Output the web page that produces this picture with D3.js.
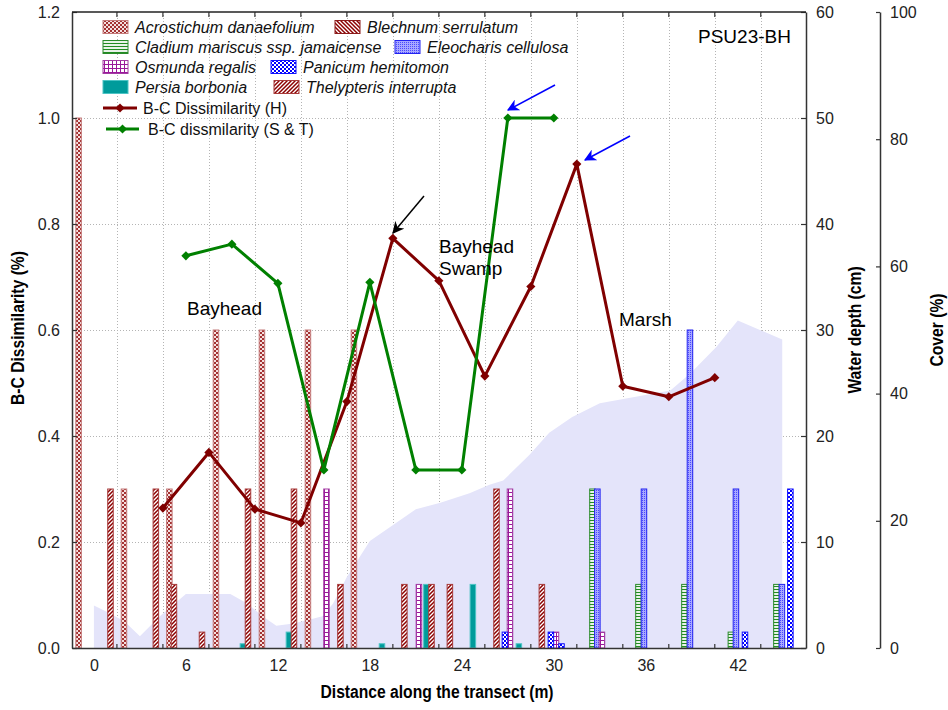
<!DOCTYPE html>
<html>
<head>
<meta charset="utf-8">
<script src="https://cdn.jsdelivr.net/npm/d3@7"></script>
<style>
body { margin: 0; background: #fff; }
svg { display: block; }
text { font-family: "Liberation Sans", Arial, sans-serif; }
.title { font-weight: bold; font-size: 18px; }
</style>
</head>
<body>
<svg id="chart"></svg>
<script>
// ---- data ----
var distTicks = [0, 6, 12, 18, 24, 30, 36, 42];
var plotMarks = [1.5, 4.5, 7.5, 10.5, 13.5, 16.5, 19.5, 22.5, 25.5, 28.5, 31.5, 34.5, 37.5, 40.5, 43.5];
var bcTicks = [0, 0.2, 0.4, 0.6, 0.8, 1.0, 1.2];
var depthTicks = [0, 10, 20, 30, 40, 50, 60];
var coverTicks = [0, 20, 40, 60, 80, 100];

// B-C dissimilarity (H)
var hDist = [4.5, 7.5, 10.5, 13.5, 16.5, 19.5, 22.5, 25.5, 28.5, 31.5, 34.5, 37.5, 40.5];
var hVal  = [0.264, 0.369, 0.262, 0.236, 0.465, 0.773, 0.693, 0.513, 0.682, 0.913, 0.494, 0.474, 0.510];
// B-C dissimilarity (S & T)
var stDist = [6, 9, 12, 15, 18, 21, 24, 27, 30];
var stVal  = [0.740, 0.762, 0.688, 0.336, 0.690, 0.336, 0.336, 1.0, 1.0];

// water depth (cm)
var depthDist = [0, 1, 2, 3, 4.3, 6, 8.9, 10, 11, 11.9, 13, 14.1, 14.9, 15.6, 16.5, 18, 19.3, 21, 22.6, 24.5, 25.8, 26.7, 28.4, 29.7, 31.2, 33, 37.6, 38.9, 40.6, 42, 44.9];
var depthVal  = [4.0, 3.3, 2.5, 1.1, 3.0, 5.1, 5.1, 4.2, 3.0, 2.1, 2.3, 2.7, 3.0, 4.2, 6.7, 10.1, 11.4, 13.1, 13.7, 14.6, 15.4, 15.8, 18.2, 20.3, 21.8, 23.1, 24.3, 25.9, 28.4, 30.9, 29.1];

// cover bars: position (m) and height
var acroPos = [-1.0, 1.96, 4.92, 7.96, 10.96, 13.96, 16.96];
var acroVal = [1.0, 0.3, 0.3, 0.6, 0.6, 0.6, 0.6];
var blechPos = [];
var blechVal = [];
var cladPos = [32.52, 35.52, 38.52, 41.55, 44.52];
var cladVal = [0.3, 0.12, 0.12, 0.03, 0.12];
var eleoPos = [32.84, 35.88, 38.88, 41.88, 44.88];
var eleoVal = [0.3, 0.3, 0.6, 0.3, 0.12];
var osmPos = [15.17, 21.2, 27.14, 30.14, 33.14];
var osmVal = [0.3, 0.12, 0.3, 0.03, 0.03];
var paniPos = [26.81, 29.81, 30.5, 42.47, 45.43];
var paniVal = [0.03, 0.03, 0.008, 0.03, 0.3];
var persPos = [9.72, 12.72, 18.79, 21.69, 24.72, 27.72];
var persVal = [0.008, 0.03, 0.008, 0.12, 0.12, 0.008];
var thelPos = [1.08, 4.04, 5.22, 7.05, 10.05, 13.05, 16.08, 20.25, 22.02, 23.22, 26.26, 29.22];
var thelVal = [0.3, 0.3, 0.12, 0.03, 0.3, 0.3, 0.12, 0.12, 0.12, 0.12, 0.3, 0.12];

var species = [
    {name: "Acrostichum danaefolium", pat: "acro", stroke: "#c47a7a", pos: acroPos, val: acroVal, lx: 103, row: 0},
    {name: "Blechnum serrulatum", pat: "blech", stroke: "#8b1a1a", pos: blechPos, val: blechVal, lx: 335, row: 0},
    {name: "Cladium mariscus ssp. jamaicense", pat: "clad", stroke: "#2a8a2a", pos: cladPos, val: cladVal, lx: 103, row: 1},
    {name: "Eleocharis cellulosa", pat: "eleo", stroke: "#2323f0", pos: eleoPos, val: eleoVal, lx: 395, row: 1},
    {name: "Osmunda regalis", pat: "osm", stroke: "#a33ca3", pos: osmPos, val: osmVal, lx: 103, row: 2},
    {name: "Panicum hemitomon", pat: "pani", stroke: "#1010ff", pos: paniPos, val: paniVal, lx: 271, row: 2},
    {name: "Persia borbonia", pat: "pers", stroke: "#4cc4c4", pos: persPos, val: persVal, lx: 103, row: 3},
    {name: "Thelypteris interrupta", pat: "thel", stroke: "#a83a3a", pos: thelPos, val: thelVal, lx: 274, row: 3}
];

var width = 948, height = 710;
var plotL = 72, plotR = 806, plotT = 12, plotB = 648;

var svg = d3.select('#chart').attr('width', width).attr('height', height);
var defs = svg.append('defs');

var x = d3.scaleLinear().domain([-1.43, 46.45]).range([plotL, plotR]);
var y = d3.scaleLinear().domain([0, 1.2]).range([plotB, plotT]);
var yDepth = d3.scaleLinear().domain([0, 60]).range([plotB, plotT]);
var yCover = d3.scaleLinear().domain([0, 100]).range([plotB, plotT]);

// fill patterns
function makePattern(id, w, h, bg, draw) {
    var p = defs.append('pattern').attr('id', id)
        .attr('patternUnits', 'userSpaceOnUse')
        .attr('width', w).attr('height', h);
    p.append('rect').attr('width', w).attr('height', h).attr('fill', bg);
    if (draw) draw(p);
}
makePattern('acro', 4, 4, '#f4e0e0', function (p) {
    p.append('rect').attr('width', 2).attr('height', 2).attr('fill', '#a33232');
    p.append('rect').attr('x', 2).attr('y', 2).attr('width', 2).attr('height', 2).attr('fill', '#a33232');
});
makePattern('blech', 4, 4, '#fff', function (p) {
    p.append('path').attr('d', 'M-1,3 l2,2 M0,0 l4,4 M3,-1 l2,2').attr('stroke', '#8b0000').attr('stroke-width', 1.5);
});
makePattern('thel', 4, 4, '#fff', function (p) {
    p.append('path').attr('d', 'M-1,1 l2,-2 M0,4 l4,-4 M3,5 l2,-2').attr('stroke', '#8b0000').attr('stroke-width', 1.5);
});
makePattern('clad', 4, 3, '#fff', function (p) {
    p.append('path').attr('d', 'M0,1.5 h4').attr('stroke', '#228b22').attr('stroke-width', 1.2);
});
makePattern('eleo', 2, 2, '#a8a8ff', function (p) {
    p.append('rect').attr('width', 1).attr('height', 1).attr('fill', '#4a4aff');
});
makePattern('osm', 4, 4, '#fff', function (p) {
    p.append('path').attr('d', 'M0,0.5 h4 M0.5,0 v4').attr('stroke', '#9a189a').attr('stroke-width', 1);
});
makePattern('pani', 4, 4, '#fff', function (p) {
    p.append('rect').attr('width', 2).attr('height', 2).attr('fill', '#0000ff');
    p.append('rect').attr('x', 2).attr('y', 2).attr('width', 2).attr('height', 2).attr('fill', '#0000ff');
});
makePattern('pers', 4, 4, '#009b9b');

// arrow heads
function makeArrow(id, color) {
    defs.append('marker').attr('id', id)
        .attr('viewBox', '0 0 10 10').attr('refX', 9).attr('refY', 5)
        .attr('markerWidth', 8).attr('markerHeight', 8)
        .attr('markerUnits', 'strokeWidth')
        .attr('orient', 'auto')
        .append('path').attr('d', 'M0,0 L10,5 L0,10 L3,5 Z').attr('fill', color);
}
makeArrow('arrBlack', '#000');
makeArrow('arrBlue', '#0000ff');

// grid
var grid = svg.append('g').attr('stroke', '#b4b4b4').attr('stroke-width', 1).attr('stroke-dasharray', '1,2');
grid.selectAll('line.h').data(bcTicks.filter(function (d) { return d > 0 && d < 1.2; }))
    .enter().append('line')
    .attr('x1', plotL).attr('x2', plotR)
    .attr('y1', function (d) { return Math.round(y(d)) + 0.5; })
    .attr('y2', function (d) { return Math.round(y(d)) + 0.5; });
grid.selectAll('line.v').data(plotMarks)
    .enter().append('line')
    .attr('y1', plotT).attr('y2', plotB)
    .attr('x1', function (d) { return Math.round(x(d)) + 0.5; })
    .attr('x2', function (d) { return Math.round(x(d)) + 0.5; });

// water depth area
var depthData = depthDist.map(function (d, i) { return [d, depthVal[i]]; });
svg.append('path').datum(depthData)
    .attr('fill', '#e4e4fa')
    .attr('d', d3.area()
        .x(function (d) { return x(d[0]); })
        .y0(plotB)
        .y1(function (d) { return yDepth(d[1]); }));

// cover bars
var bw = x(0.36) - x(0);
species.forEach(function (s) {
    var rows = s.pos.map(function (p, i) { return {p: p, v: s.val[i]}; });
    svg.append('g').selectAll('rect').data(rows).enter().append('rect')
        .attr('x', function (d) { return x(d.p) - bw / 2; })
        .attr('width', bw)
        .attr('y', function (d) { return y(d.v); })
        .attr('height', function (d) { return plotB - y(d.v); })
        .attr('fill', 'url(#' + s.pat + ')')
        .attr('stroke', s.stroke)
        .attr('stroke-width', 1);
});

// dissimilarity lines
function drawSeries(dist, vals, color) {
    var pts = dist.map(function (d, i) { return [d, vals[i]]; });
    var g = svg.append('g');
    g.append('path').datum(pts)
        .attr('fill', 'none').attr('stroke', color).attr('stroke-width', 3)
        .attr('stroke-linejoin', 'round')
        .attr('d', d3.line().x(function (d) { return x(d[0]); }).y(function (d) { return y(d[1]); }));
    g.selectAll('path.m').data(pts).enter().append('path')
        .attr('d', d3.symbol(d3.symbolSquare, 42))
        .attr('fill', color)
        .attr('transform', function (d) { return 'translate(' + x(d[0]) + ',' + y(d[1]) + ') rotate(45)'; });
}
drawSeries(hDist, hVal, '#800000');
drawSeries(stDist, stVal, '#008000');

// axes
var tickColor = '#222';
function styleAxis(g) {
    g.selectAll('path.domain').attr('stroke', '#333').attr('stroke-width', 1.5);
    g.selectAll('.tick line').attr('stroke', '#333').attr('stroke-width', 1.2);
    g.selectAll('.tick text').attr('fill', tickColor).attr('font-size', 16)
        .attr('font-family', '"Liberation Sans", Arial, sans-serif');
}
svg.append('g').attr('transform', 'translate(' + plotL + ',0)')
    .call(d3.axisLeft(y).tickValues(bcTicks).tickFormat(d3.format('.1f'))
        .tickSizeInner(-5).tickSizeOuter(0).tickPadding(12))
    .call(styleAxis);
svg.append('g').attr('transform', 'translate(0,' + plotB + ')')
    .call(d3.axisBottom(x).tickValues(distTicks).tickFormat(d3.format('d'))
        .tickSize(0).tickPadding(12))
    .call(styleAxis);
svg.append('g').attr('transform', 'translate(' + plotR + ',0)')
    .call(d3.axisRight(yDepth).tickValues(depthTicks)
        .tickSizeInner(-5).tickSizeOuter(0).tickPadding(10))
    .call(styleAxis);
svg.append('g').attr('transform', 'translate(880,0)')
    .call(d3.axisRight(yCover).tickValues(coverTicks)
        .tickSizeInner(-4).tickSizeOuter(0).tickPadding(10))
    .call(styleAxis);

// top frame and minor ticks
svg.append('line').attr('x1', plotL).attr('x2', plotR).attr('y1', plotT).attr('y2', plotT)
    .attr('stroke', '#222').attr('stroke-width', 1.5);
var minor = svg.append('g').attr('stroke', '#333').attr('stroke-width', 1.2);
minor.selectAll('line.t').data(plotMarks).enter().append('line')
    .attr('x1', function (d) { return x(d); }).attr('x2', function (d) { return x(d); })
    .attr('y1', plotT).attr('y2', plotT + 5);
minor.selectAll('line.b').data(plotMarks).enter().append('line')
    .attr('x1', function (d) { return x(d); }).attr('x2', function (d) { return x(d); })
    .attr('y1', plotB).attr('y2', plotB - 4);

// axis titles (condensed bold)
var squeeze = 0.87;
svg.append('text').attr('class', 'title').attr('text-anchor', 'middle')
    .attr('transform', 'translate(24,328) rotate(-90) scale(' + squeeze + ',1)').text('B-C Dissimilarity (%)');
svg.append('text').attr('class', 'title').attr('text-anchor', 'middle')
    .attr('transform', 'translate(861,330) rotate(-90) scale(' + squeeze + ',1)').text('Water depth (cm)');
svg.append('text').attr('class', 'title').attr('text-anchor', 'middle')
    .attr('transform', 'translate(943,330) rotate(-90) scale(' + squeeze + ',1)').text('Cover (%)');
svg.append('text').attr('class', 'title').attr('text-anchor', 'middle')
    .attr('transform', 'translate(437,698) scale(' + squeeze + ',1)').text('Distance along the transect (m)');

// zone labels
var zoneFont = 19;
svg.append('text').attr('x', 187).attr('y', 315).attr('font-size', zoneFont).text('Bayhead');
svg.append('text').attr('x', 439).attr('y', 253).attr('font-size', zoneFont).text('Bayhead');
svg.append('text').attr('x', 439).attr('y', 275).attr('font-size', zoneFont).text('Swamp');
svg.append('text').attr('x', 619).attr('y', 326).attr('font-size', zoneFont).text('Marsh');
svg.append('text').attr('x', 698).attr('y', 43).attr('font-size', zoneFont).text('PSU23-BH');

// arrows
svg.append('line').attr('x1', 424).attr('y1', 196).attr('x2', 393).attr('y2', 233)
    .attr('stroke', '#000').attr('stroke-width', 1.5).attr('marker-end', 'url(#arrBlack)');
svg.append('line').attr('x1', 555).attr('y1', 85).attr('x2', 508).attr('y2', 110)
    .attr('stroke', '#0000ff').attr('stroke-width', 1.5).attr('marker-end', 'url(#arrBlue)');
svg.append('line').attr('x1', 630).attr('y1', 136).attr('x2', 585).attr('y2', 160)
    .attr('stroke', '#0000ff').attr('stroke-width', 1.5).attr('marker-end', 'url(#arrBlue)');

// legend
var rowY = [27, 47, 67, 87];
var legend = svg.append('g');
species.forEach(function (s) {
    var yy = rowY[s.row];
    legend.append('rect').attr('x', s.lx).attr('y', yy - 6.5).attr('width', 25).attr('height', 13)
        .attr('fill', 'url(#' + s.pat + ')').attr('stroke', s.stroke).attr('stroke-width', 1);
    legend.append('text').attr('x', s.lx + 32).attr('y', yy + 6)
        .attr('font-size', 16).attr('font-style', 'italic').attr('fill', '#111')
        .text(s.name);
});
var lineKeys = [
    {name: 'B-C Dissimilarity (H)', color: '#800000', x1: 103, x2: 137, tx: 143, y: 108},
    {name: 'B-C dissmilarity (S & T)', color: '#008000', x1: 106, x2: 139, tx: 148, y: 129}
];
lineKeys.forEach(function (k) {
    legend.append('line').attr('x1', k.x1).attr('x2', k.x2).attr('y1', k.y).attr('y2', k.y)
        .attr('stroke', k.color).attr('stroke-width', 3);
    legend.append('path').attr('d', d3.symbol(d3.symbolSquare, 42)).attr('fill', k.color)
        .attr('transform', 'translate(' + ((k.x1 + k.x2) / 2) + ',' + k.y + ') rotate(45)');
    legend.append('text').attr('x', k.tx).attr('y', k.y + 6).attr('font-size', 16).attr('fill', '#111')
        .text(k.name);
});
</script>
</body>
</html>
